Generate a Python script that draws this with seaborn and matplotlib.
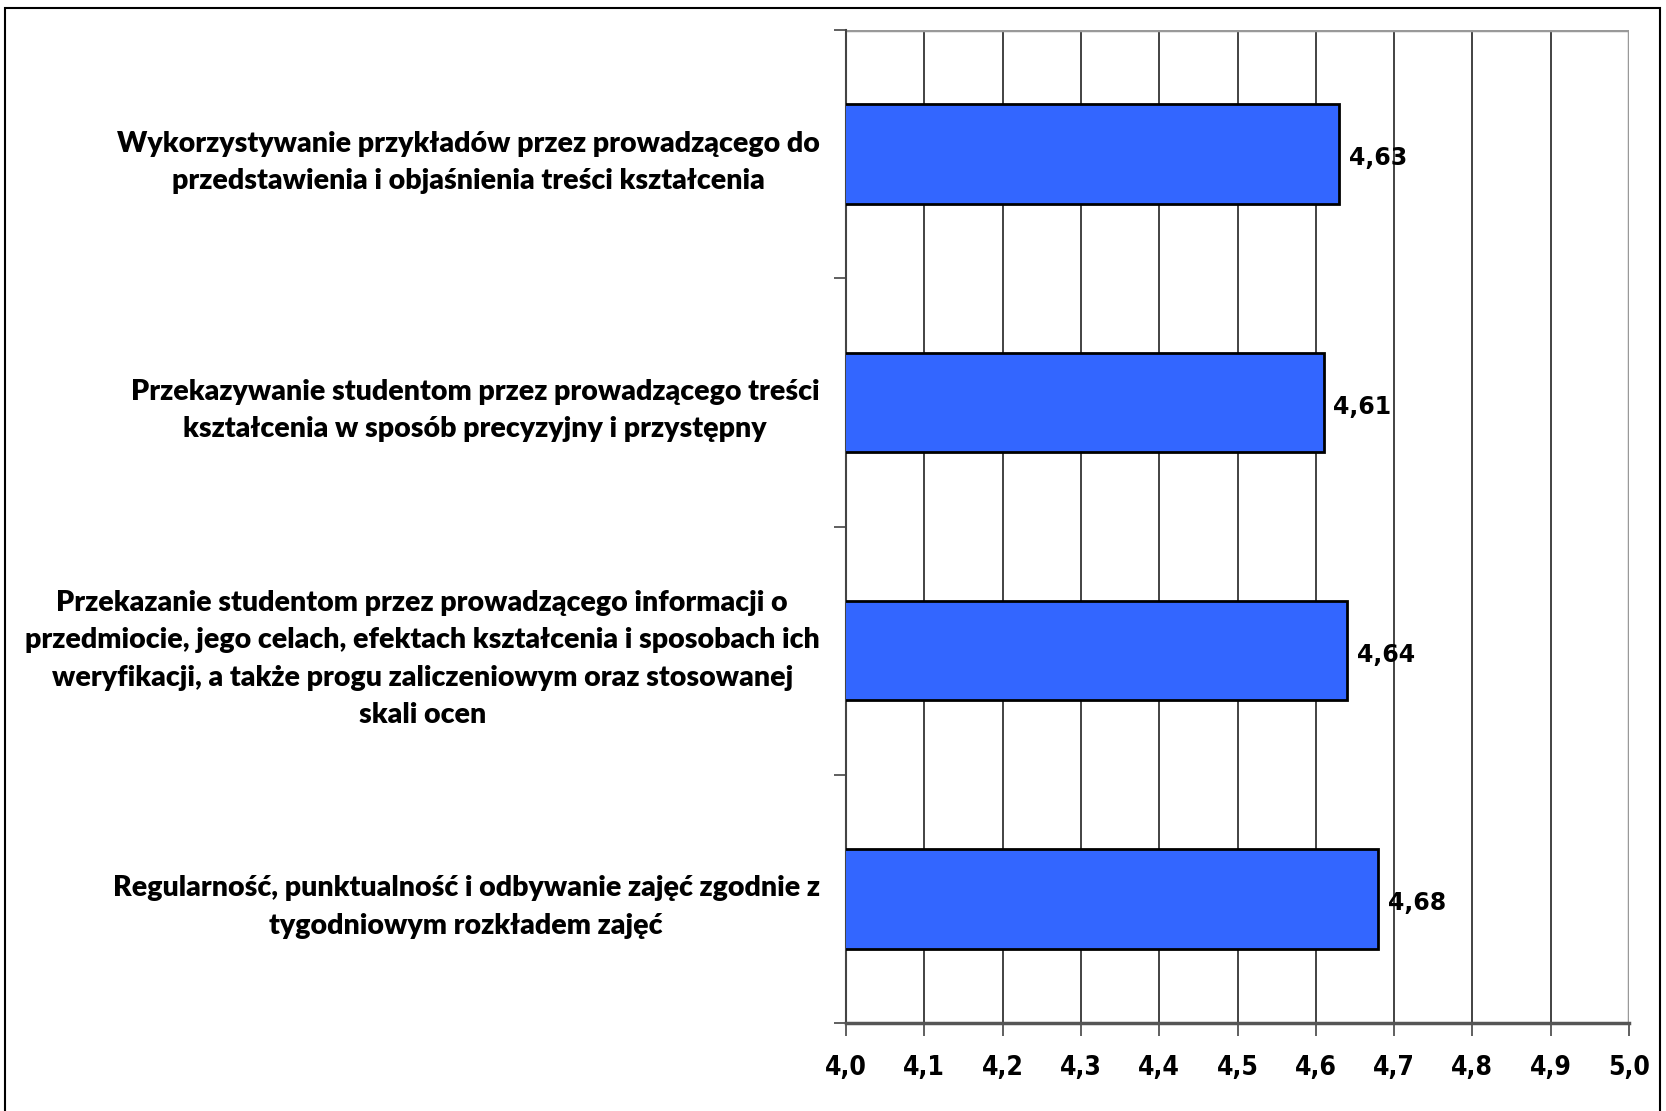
import matplotlib
matplotlib.use("Agg")
import matplotlib.pyplot as plt
import seaborn as sns
import pandas as pd
from matplotlib.patches import Rectangle
from matplotlib.ticker import FixedLocator

categories = [
    "Wykorzystywanie przykładów przez prowadzącego do\nprzedstawienia i objaśnienia treści kształcenia",
    "Przekazywanie studentom przez prowadzącego treści\nkształcenia w sposób precyzyjny i przystępny",
    "Przekazanie studentom przez prowadzącego informacji o\nprzedmiocie, jego celach, efektach kształcenia i sposobach ich\nweryfikacji, a także progu zaliczeniowym oraz stosowanej\nskali ocen",
    "Regularność, punktualność i odbywanie zajęć zgodnie z\ntygodniowym rozkładem zajęć",
]
values = [4.63, 4.61, 4.64, 4.68]
x_ticks = [4.0, 4.1, 4.2, 4.3, 4.4, 4.5, 4.6, 4.7, 4.8, 4.9, 5.0]
x_tick_labels = ["4,0", "4,1", "4,2", "4,3", "4,4", "4,5", "4,6", "4,7", "4,8", "4,9", "5,0"]
value_labels = ["4,63", "4,61", "4,64", "4,68"]

sns.set_theme(style="white")
plt.rcParams["font.family"] = ["Lato", "DejaVu Sans"]
plt.rcParams["text.color"] = "black"
plt.rcParams["xtick.color"] = "black"
plt.rcParams["ytick.color"] = "black"

W, H = 1666, 1111
fig = plt.figure(figsize=(W / 100, H / 100), dpi=100)
fig.patch.set_facecolor("white")
ax = fig.add_axes([846 / W, 1 - 1023 / H, (1629 - 846) / W, (1023 - 30) / H])

df = pd.DataFrame({"cat": categories, "val": values})
sns.barplot(data=df, y="cat", x="val", orient="h", ax=ax, color="#3366FF",
            saturation=1, width=0.4, edgecolor="black", linewidth=2, zorder=3)

ax.set_xlim(4.0, 5.0)
ax.set_ylim(3.5, -0.5)
ax.set_xlabel("")
ax.set_ylabel("")

# grid
for xv in x_ticks[1:-1]:
    ax.axvline(xv, color="#222222", lw=1.2, zorder=1)
ax.axvline(5.0, color="#999999", lw=2.5, zorder=1)

ax.set_xticks(x_ticks)
ax.set_xticklabels(x_tick_labels, fontsize=19, fontweight="bold",
                   family=["DejaVu Sans"], fontstretch="condensed", color="black")
ax.tick_params(axis="x", direction="out", length=9, width=1.2, color="#444444", pad=14, bottom=True)

# y ticks at category boundaries, labels at centers
ax.yaxis.set_major_locator(FixedLocator([-0.5, 0.5, 1.5, 2.5, 3.5]))
ax.yaxis.set_major_formatter(plt.NullFormatter())
ax.yaxis.set_minor_locator(FixedLocator([0, 1, 2, 3]))
ax.set_yticklabels(categories, minor=True, fontsize=20.5, fontweight="heavy",
                   ha="right", multialignment="center", linespacing=1.55, color="black")
ax.tick_params(axis="y", which="major", direction="out", length=9, width=1.2, color="#444444", left=True)
ax.tick_params(axis="y", which="minor", length=0, pad=19, left=True)

for s in ["top", "right"]:
    ax.spines[s].set_visible(False)
ax.spines["left"].set_color("#444444")
ax.spines["left"].set_linewidth(1.5)
ax.spines["bottom"].set_color("#555555")
ax.spines["bottom"].set_linewidth(2.5)
ax.axhline(-0.5, color="#999999", lw=2.5, zorder=1)

for i, (v, lab) in enumerate(zip(values, value_labels)):
    ax.annotate(lab, (v, i), xytext=(7, -3), textcoords="offset points",
                va="center", ha="left", fontsize=17, fontweight="bold",
                family=["DejaVu Sans"], color="black", zorder=4)

# figure frame
fig.patches.append(Rectangle((5 / W, -0.01), (1660 - 5) / W, 1 - 8 / H + 0.01,
                             transform=fig.transFigure, fill=False,
                             edgecolor="black", lw=1.5))

fig.savefig("out.png", dpi=100, facecolor="white")
